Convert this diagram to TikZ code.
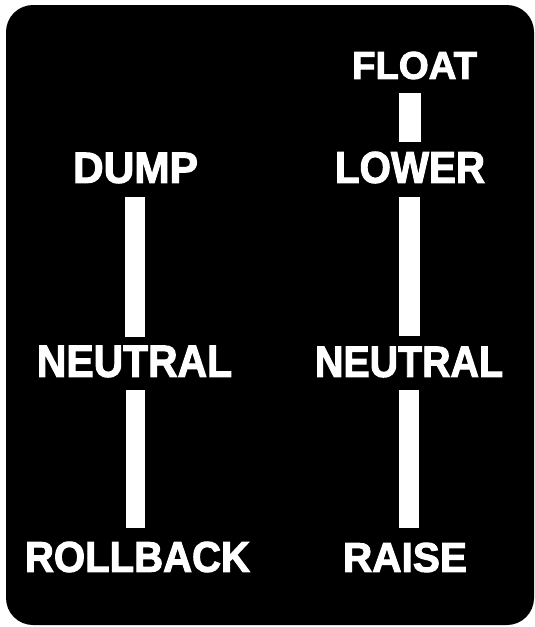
\documentclass[tikz,border=0pt]{standalone}
\usepackage{fontspec}
\setmainfont{Liberation Sans}
\newfontfamily\heavy{Liberation Sans Bold}[FakeBold=2.5]
\usepackage{graphicx}
\begin{document}
\begin{tikzpicture}[x=1pt,y=-1pt,
  lbl/.style={text=white,inner sep=0pt,font=\heavy},
  bar/.style={fill=white}]
\useasboundingbox (0,0) rectangle (535,627);
\fill[white] (0,0) rectangle (535,627);
\fill[black,rounded corners=27pt] (6,5) rectangle (534,625);
% labels (width x cap height fitted to the reference)
\node[lbl] (float)  at (414.5,65.5) {\resizebox{125pt}{27pt}{FLOAT}};
\node[lbl] (lower)  at (410,167.5)  {\resizebox{150pt}{31pt}{LOWER}};
\node[lbl] (dump)   at (135.5,168)  {\resizebox{125pt}{30pt}{DUMP}};
\node[lbl] (neutl)  at (134.5,361.5){\resizebox{195pt}{31pt}{NEUTRAL}};
\node[lbl] (neutr)  at (409,362)    {\resizebox{188pt}{30pt}{NEUTRAL}};
\node[lbl] (roll)   at (137.5,557)  {\resizebox{225pt}{30pt}{ROLLBACK}};
\node[lbl] (raise)  at (405,557.5)  {\resizebox{124pt}{29pt}{RAISE}};
% bars
\fill[bar] (399,93)  rectangle (421,142);
\fill[bar] (125,197) rectangle (145,337);
\fill[bar] (126,390) rectangle (145,528);
\fill[bar] (399,197) rectangle (420,336);
\fill[bar] (399,390) rectangle (419,528);
\end{tikzpicture}
\end{document}
